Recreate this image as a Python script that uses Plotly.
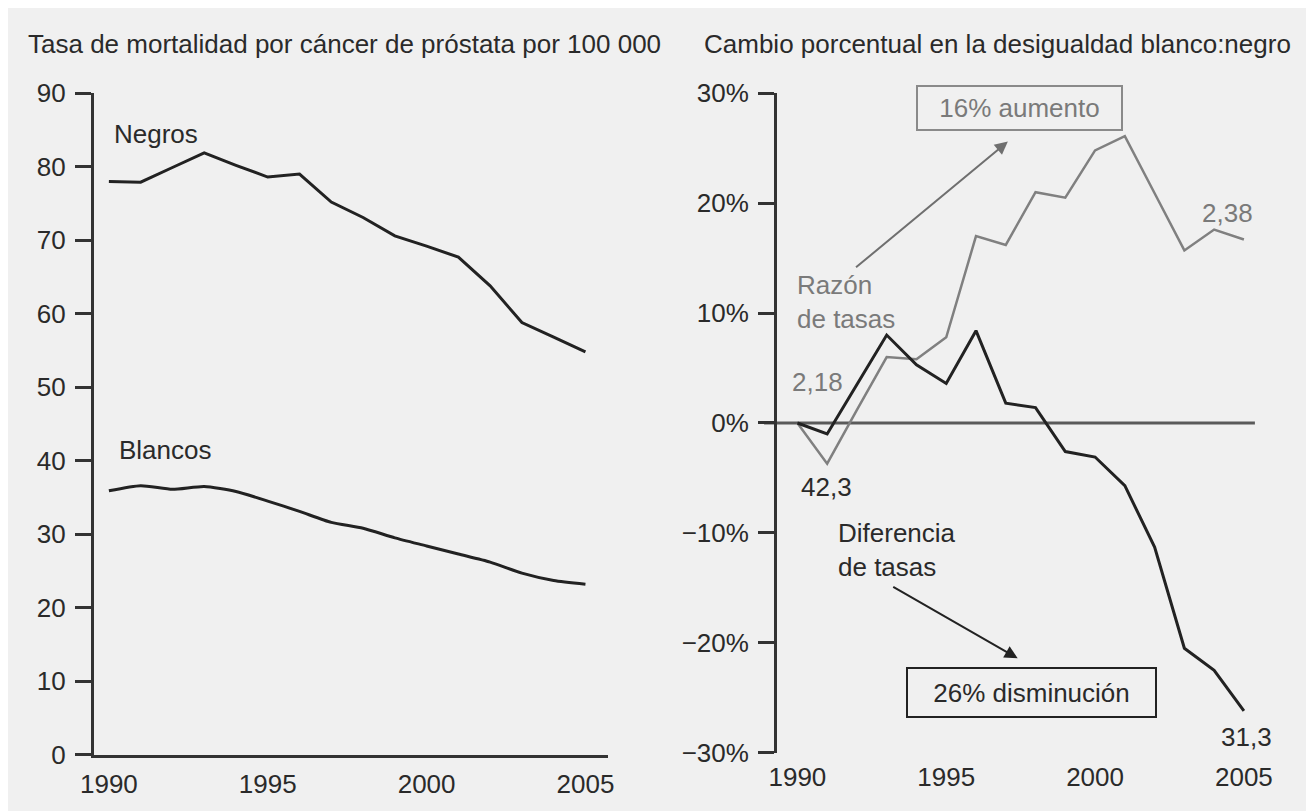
import plotly.graph_objects as go

years = list(range(1990, 2006))

# Left panel: prostate cancer mortality per 100 000
negros = [78.0, 77.9, 79.9, 81.9, 80.2, 78.6, 79.0, 75.2, 73.1, 70.6, 69.2, 67.7, 63.8, 58.8, 56.8, 54.8]
blancos = [35.9, 36.6, 36.1, 36.5, 35.8, 34.5, 33.1, 31.6, 30.8, 29.5, 28.4, 27.3, 26.2, 24.7, 23.7, 23.2]

# Right panel: percent change in white:black inequality
razon = [0.0, -3.7, 1.2, 6.0, 5.8, 7.8, 17.0, 16.2, 21.0, 20.5, 24.8, 26.1, 20.9, 15.7, 17.6, 16.7]
diferencia = [0.0, -1.0, 3.5, 8.0, 5.3, 3.6, 8.4, 1.8, 1.4, -2.6, -3.1, -5.7, -11.3, -20.5, -22.5, -26.2]

x_ticks = [1990, 1995, 2000, 2005]
left_yticks = [0, 10, 20, 30, 40, 50, 60, 70, 80, 90]
right_yticks = [-30, -20, -10, 0, 10, 20, 30]
right_yticktext = ["\u221230%", "\u221220%", "\u221210%", "0%", "10%", "20%", "30%"]

BG = "#f0f0f0"
BLACK = "#222222"
GRAY = "#7a7a7a"
TXT = "#2a2a2a"
FONT = "Liberation Sans, Arial, sans-serif"
FS = 26

# page body margin of 8px shifts the figure; compensate
OFF = 8
W, H = 1314 - OFF, 811 - OFF
def px(x):
    return (x - OFF) / W
def py(y):
    return 1 - (y - OFF) / H

fig = go.Figure()

fig.add_trace(go.Scatter(x=years, y=negros, mode="lines", line=dict(color=BLACK, width=3),
                         xaxis="x", yaxis="y", hoverinfo="skip"))
fig.add_trace(go.Scatter(x=years, y=blancos, mode="lines", line=dict(color=BLACK, width=3, shape="spline", smoothing=0.6),
                         xaxis="x", yaxis="y", hoverinfo="skip"))
fig.add_trace(go.Scatter(x=years, y=razon, mode="lines", line=dict(color="#808080", width=2.5),
                         xaxis="x2", yaxis="y2", hoverinfo="skip"))
fig.add_trace(go.Scatter(x=years, y=diferencia, mode="lines", line=dict(color=BLACK, width=3),
                         xaxis="x2", yaxis="y2", hoverinfo="skip"))

axis_common = dict(showgrid=False, zeroline=False, linecolor="#333333", linewidth=2.5,
                   tickfont=dict(family=FONT, size=FS, color=TXT), fixedrange=True)

fig.update_layout(
    width=W, height=H,
    margin=dict(l=0, r=0, t=0, b=0),
    paper_bgcolor=BG, plot_bgcolor=BG,
    showlegend=False,
    font=dict(family=FONT, size=FS, color=TXT),
    xaxis=dict(domain=[px(82), px(606)], range=[1989.52, 2005.71], showline=True, ticks="",
               tickvals=x_ticks, ticktext=[str(v) for v in x_ticks], ticklabelstandoff=4,
               anchor="y", **axis_common),
    yaxis=dict(domain=[py(768), py(81)], range=[0, 90], showline=True, ticks="outside", ticklen=16,
               tickwidth=2.5, tickcolor="#333333", tickvals=left_yticks, ticktext=[str(v) for v in left_yticks],
               ticklabelstandoff=4, anchor="x", **axis_common),
    xaxis2=dict(domain=[px(778), px(1272)], range=[1989.31, 2005.6], showline=False, ticks="",
                tickvals=x_ticks, ticktext=[str(v) for v in x_ticks], ticklabelstandoff=6,
                anchor="y2", **axis_common),
    yaxis2=dict(domain=[py(766), py(81)], range=[-30, 30], showline=True, ticks="outside", ticklen=16,
                tickwidth=2.5, tickcolor="#333333", tickvals=right_yticks, ticktext=right_yticktext,
                ticklabelstandoff=4, anchor="x2", **axis_common),
)

# zero line on right panel
fig.add_shape(type="line", xref="paper", yref="y2", x0=px(765), x1=px(1265), y0=0, y1=0,
              line=dict(color="#5a5a5a", width=3), layer="below")

ann = []
# titles
ann.append(dict(text="Tasa de mortalidad por cáncer de próstata por 100 000", xref="paper", yref="paper",
                x=px(13), y=py(30), xanchor="left", yanchor="middle", showarrow=False,
                font=dict(family=FONT, size=FS, color=TXT)))
ann.append(dict(text="Cambio porcentual en la desigualdad blanco:negro", xref="paper", yref="paper",
                x=px(1003), y=py(30), xanchor="center", yanchor="middle", showarrow=False,
                font=dict(family=FONT, size=FS, color=TXT)))
# left labels
ann.append(dict(text="Negros", xref="x", yref="y", x=1991.47, y=84.5, showarrow=False,
                font=dict(family=FONT, size=FS, color=TXT)))
ann.append(dict(text="Blancos", xref="x", yref="y", x=1991.78, y=41.5, showarrow=False,
                font=dict(family=FONT, size=FS, color=TXT)))
# right labels
ann.append(dict(text="16% aumento", xref="x2", yref="y2", x=1997.46, y=28.68, showarrow=False,
                width=203, height=42, borderwidth=2, borderpad=0, bordercolor="#8a8a8a",
                font=dict(family=FONT, size=FS, color=GRAY)))
ann.append(dict(text="", xref="x2", yref="y2", axref="x2", ayref="y2", x=1997.07, y=25.61,
                ax=1991.92, ay=14.05, showarrow=True, arrowhead=2, arrowsize=1.3, arrowwidth=2,
                arrowcolor="#6f6f6f"))
ann.append(dict(text="Razón<br>de tasas", xref="x2", yref="y2", x=1989.93, y=11.03, xanchor="left",
                align="left", showarrow=False, font=dict(family=FONT, size=FS, color=GRAY)))
ann.append(dict(text="2,18", xref="x2", yref="y2", x=1990.69, y=3.72, showarrow=False,
                font=dict(family=FONT, size=FS, color=GRAY)))
ann.append(dict(text="2,38", xref="x2", yref="y2", x=2004.44, y=19.13, showarrow=False,
                font=dict(family=FONT, size=FS, color=GRAY)))
ann.append(dict(text="42,3", xref="x2", yref="y2", x=1990.99, y=-5.83, showarrow=False,
                font=dict(family=FONT, size=FS, color=TXT)))
ann.append(dict(text="Diferencia<br>de tasas", xref="x2", yref="y2", x=1991.29, y=-11.6, xanchor="left",
                align="left", showarrow=False, font=dict(family=FONT, size=FS, color=TXT)))
ann.append(dict(text="", xref="x2", yref="y2", axref="x2", ayref="y2", x=1997.40, y=-21.41,
                ax=1993.17, ay=-14.84, showarrow=True, arrowhead=2, arrowsize=1.3, arrowwidth=2,
                arrowcolor=BLACK))
ann.append(dict(text="26% disminución", xref="x2", yref="y2", x=1997.88, y=-24.52, showarrow=False,
                width=247, height=47, borderwidth=2, borderpad=0, bordercolor=BLACK,
                font=dict(family=FONT, size=FS, color=TXT)))
ann.append(dict(text="31,3", xref="x2", yref="y2", x=2005.10, y=-28.59, showarrow=False,
                font=dict(family=FONT, size=FS, color=TXT)))

fig.update_layout(annotations=ann)

fig.write_html("out.html")
